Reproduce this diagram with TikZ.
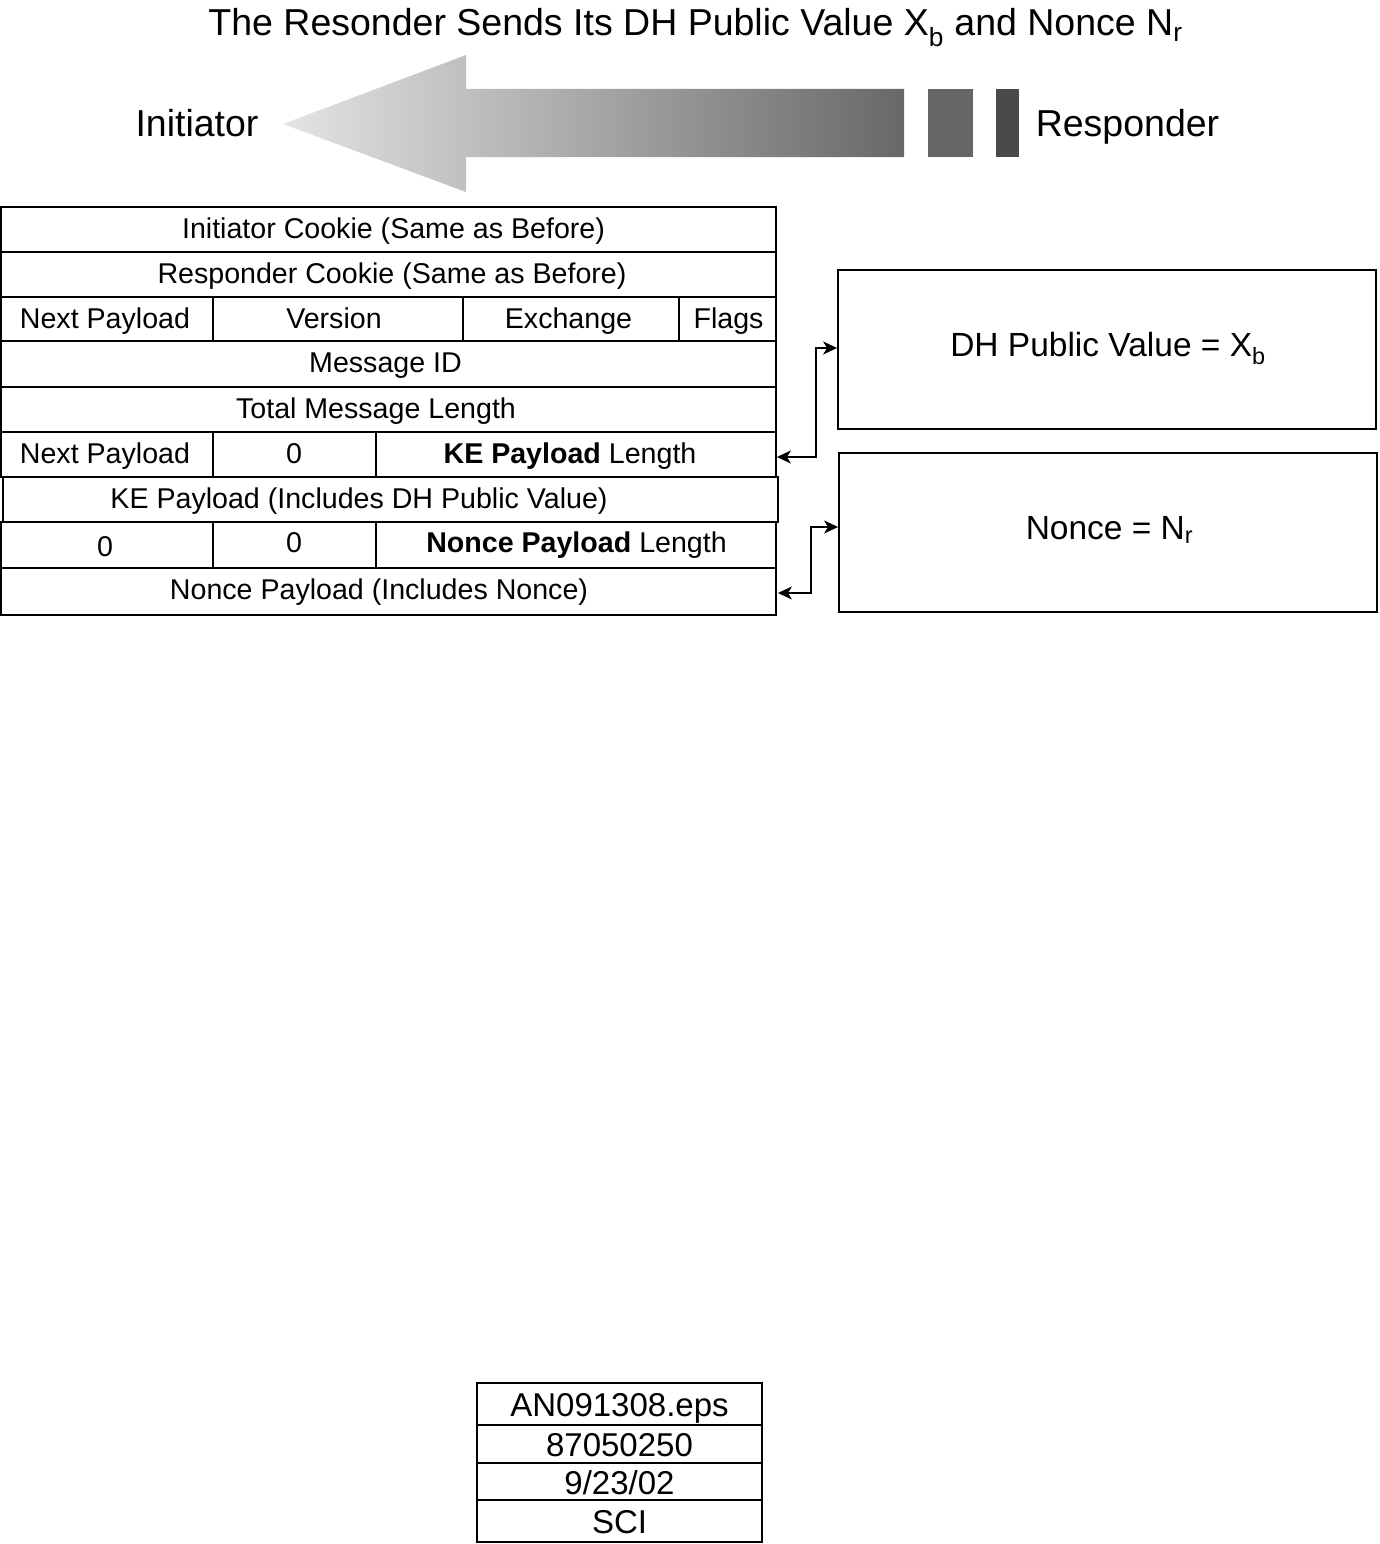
\documentclass[tikz,border=0pt]{standalone}
\usepackage{fontspec}
\setmainfont{Liberation Sans}
\usetikzlibrary{arrows.meta}
\definecolor{tipgray}{HTML}{E4E4E4}
\definecolor{shaftgray}{HTML}{686868}
\definecolor{blockA}{HTML}{666666}
\definecolor{blockB}{HTML}{4A4A4A}
\tikzset{
  cell/.style={draw, line width=1.8pt, inner sep=0pt},
  txt/.style={inner sep=0pt, anchor=base, font=\fontsize{28.6}{30}\selectfont},
  bigtxt/.style={inner sep=0pt, anchor=base, font=\fontsize{37.5}{40}\selectfont},
  boxtxt/.style={inner sep=0pt, anchor=base, font=\fontsize{33.5}{36}\selectfont},
  tagtxt/.style={inner sep=0pt, anchor=base, font=\fontsize{33}{36}\selectfont},
  conn/.style={line width=1.6pt, {Stealth[length=14pt,width=13pt,inset=4pt]}-{Stealth[length=14pt,width=13pt,inset=4pt]}},
}
\begin{document}
\begin{tikzpicture}[x=1pt,y=-1pt]
\useasboundingbox (0,0) rectangle (1379,1544);
\fill[white] (0,0) rectangle (1379,1544);

% title
\node[bigtxt] (title) at (695.5,36) {The Resonder Sends Its DH Public Value X\textsubscript{b} and Nonce N\textsubscript{r}};

% big arrow
\shade[left color=tipgray, right color=shaftgray]
  (283,124) -- (466,55) -- (466,89) -- (904,89) -- (904,157) -- (466,157) -- (466,192) -- cycle;
\fill[blockA] (928,89) rectangle (973,157);
\fill[blockB] (996,89) rectangle (1019,157);
\node[bigtxt] (init) at (197,137) {Initiator};
\node[bigtxt] (resp) at (1127.5,137) {Responder};

% table cells
\node[cell, minimum width=775, minimum height=45] (r1) at (388.5,229.5) {};
\node[cell, minimum width=775, minimum height=45] (r2) at (388.5,274.5) {};
\node[cell, minimum width=212, minimum height=44] (r3a) at (107,319) {};
\node[cell, minimum width=250, minimum height=44] (r3b) at (338,319) {};
\node[cell, minimum width=216, minimum height=44] (r3c) at (571,319) {};
\node[cell, minimum width=97, minimum height=44] (r3d) at (727.5,319) {};
\node[cell, minimum width=775, minimum height=46] (r4) at (388.5,364) {};
\node[cell, minimum width=775, minimum height=45] (r5) at (388.5,409.5) {};
\node[cell, minimum width=212, minimum height=45] (r6a) at (107,454.5) {};
\node[cell, minimum width=163, minimum height=45] (r6b) at (294.5,454.5) {};
\node[cell, minimum width=400, minimum height=45] (r6c) at (576,454.5) {};
\node[cell, minimum width=775, minimum height=45] (r7) at (390.5,499.5) {};
\node[cell, minimum width=212, minimum height=46] (r8a) at (107,545) {};
\node[cell, minimum width=163, minimum height=46] (r8b) at (294.5,545) {};
\node[cell, minimum width=400, minimum height=46] (r8c) at (576,545) {};
\node[cell, minimum width=775, minimum height=47] (r9) at (388.5,591.5) {};

% table texts
\node[txt] (t1) at (393.5,238) {Initiator Cookie (Same as Before)};
\node[txt] (t2) at (392,283) {Responder Cookie (Same as Before)};
\node[txt] (t3a) at (105,328) {Next Payload};
\node[txt] (t3b) at (334,328) {Version};
\node[txt] (t3c) at (568.5,328) {Exchange};
\node[txt] (t3d) at (728.5,328) {Flags};
\node[txt] (t4) at (385.5,372.5) {Message ID};
\node[txt] (t5) at (376,418) {Total Message Length};
\node[txt] (t6a) at (105,463) {Next Payload};
\node[txt] (t6b) at (294,463) {0};
\node[txt] (t6c) at (570,463) {\textbf{KE Payload} Length};
\node[txt] (t7) at (359,508) {KE Payload (Includes DH Public Value)};
\node[txt] (t8a) at (105,556) {0};
\node[txt] (t8b) at (294,552) {0};
\node[txt] (t8c) at (576.5,552) {\textbf{Nonce Payload} Length};
\node[txt] (t9) at (379,599.5) {Nonce Payload (Includes Nonce)};

% right boxes
\node[cell, minimum width=538, minimum height=159] (box1) at (1107,349.5) {};
\node[cell, minimum width=538, minimum height=159] (box2) at (1108,532.5) {};
\node[boxtxt] (b1t) at (1108,356) {DH Public Value = X\textsubscript{b}};
\node[boxtxt] (b2t) at (1109.5,539) {Nonce = N\textsubscript{r}};

% connectors
\draw[conn] ([yshift=-2.5pt]r6c.east) -- ++(39,0) |- ([yshift=1.5pt]box1.west);
\draw[conn] ([xshift=1pt,yshift=-1.5pt]r9.east) -- ++(33,0) |- ([yshift=5.5pt]box2.west);

% tag box
\node[cell, minimum width=285, minimum height=42] (g1) at (619.5,1404) {};
\node[cell, minimum width=285, minimum height=38] (g2) at (619.5,1444) {};
\node[cell, minimum width=285, minimum height=37] (g3) at (619.5,1481.5) {};
\node[cell, minimum width=285, minimum height=42] (g4) at (619.5,1521) {};
\node[tagtxt] (g1t) at (619.5,1416) {AN091308.eps};
\node[tagtxt] (g2t) at (619.5,1456) {87050250};
\node[tagtxt] (g3t) at (619.5,1494.5) {9/23/02};
\node[tagtxt] (g4t) at (619.5,1533.5) {SCI};
\end{tikzpicture}
\end{document}
